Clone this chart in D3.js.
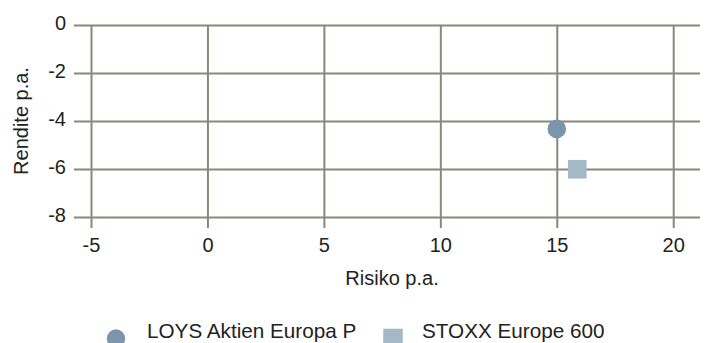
<!DOCTYPE html>
<html>
<head>
<meta charset="utf-8">
<script src="https://cdn.jsdelivr.net/npm/d3@7"></script>
<style>
  html, body { margin: 0; padding: 0; background: #fff; }
  svg { display: block; font-family: "Liberation Sans", Arial, Helvetica, sans-serif; }
</style>
</head>
<body>
<svg id="chart" width="709" height="343"></svg>
<script>
// Risk / return of the fund versus its benchmark
const seriesNames = ["LOYS Aktien Europa P", "STOXX Europe 600"];
const seriesRisk = [15.0, 15.88];
const seriesReturn = [-4.33, -6.01];
const seriesShapes = ["circle", "square"];
const seriesColors = ["#7b96ac", "#a4b8c7"];
const xTickValues = [-5, 0, 5, 10, 15, 20];
const yTickValues = [0, -2, -4, -6, -8];
const xTitle = "Risiko p.a.";
const yTitle = "Rendite p.a.";

const svg = d3.select("#chart");
const gridColor = "#8a8778";
const textColor = "#222";

const plot = { left: 91, right: 700, top: 25, bottom: 217 };
const x = d3.scaleLinear().domain([-5, 21.15]).range([plot.left, plot.right]);
const y = d3.scaleLinear().domain([-8, 0]).range([plot.bottom, plot.top]);
const fmt = d => d3.format("d")(d).replace("\u2212", "-");

// horizontal grid + y labels
const yAxisX = 74;
const yAxis = d3.axisLeft(y)
  .tickValues(yTickValues)
  .tickSizeInner(-(plot.right - yAxisX))
  .tickSizeOuter(0)
  .tickPadding(8)
  .tickFormat(fmt);
const gy = svg.append("g").attr("transform", `translate(${yAxisX},0)`).call(yAxis);
gy.select(".domain").remove();
gy.selectAll(".tick line").attr("stroke", gridColor).attr("stroke-width", 2);
gy.selectAll(".tick text").attr("fill", textColor).attr("font-size", 20).attr("dy", "0.2em");

// vertical grid + x labels
const xAxisY = 228;
const xAxis = d3.axisBottom(x)
  .tickValues(xTickValues)
  .tickSizeInner(-(xAxisY - plot.top))
  .tickSizeOuter(0)
  .tickPadding(10)
  .tickFormat(fmt);
const gx = svg.append("g").attr("transform", `translate(0,${xAxisY})`).call(xAxis);
gx.select(".domain").remove();
gx.selectAll(".tick line").attr("stroke", gridColor).attr("stroke-width", 2);
gx.selectAll(".tick text").attr("fill", textColor).attr("font-size", 20);

// axis titles
svg.append("text")
  .attr("x", 392)
  .attr("y", 285)
  .attr("text-anchor", "middle")
  .attr("font-size", 20)
  .attr("fill", textColor)
  .text(xTitle);

svg.append("text")
  .attr("transform", `translate(28,${(plot.top + plot.bottom) / 2}) rotate(-90)`)
  .attr("text-anchor", "middle")
  .attr("font-size", 20)
  .attr("fill", textColor)
  .text(yTitle);

// markers
const points = seriesNames.map((name, i) => ({
  name, risk: seriesRisk[i], ret: seriesReturn[i], shape: seriesShapes[i], color: seriesColors[i]
}));

function drawMarker(sel, d, cx, cy, size) {
  if (d.shape === "circle") {
    sel.append("circle").attr("cx", cx).attr("cy", cy).attr("r", size / 2).attr("fill", d.color);
  } else {
    sel.append("rect")
      .attr("x", cx - size / 2).attr("y", cy - size / 2)
      .attr("width", size).attr("height", size)
      .attr("fill", d.color);
  }
}

const gm = svg.append("g");
points.forEach(d => drawMarker(gm, d, x(d.risk), y(d.ret), 18.6));

// legend
const legendMarkerX = [116, 393];
const legendTextX = [147, 422];
const gl = svg.append("g");
points.forEach((d, i) => {
  drawMarker(gl, d, legendMarkerX[i], 338.5, d.shape === "circle" ? 18.4 : 19.5);
  gl.append("text")
    .attr("x", legendTextX[i])
    .attr("y", 337.8)
    .attr("font-size", 20.7)
    .attr("fill", textColor)
    .text(d.name);
});
</script>
</body>
</html>
